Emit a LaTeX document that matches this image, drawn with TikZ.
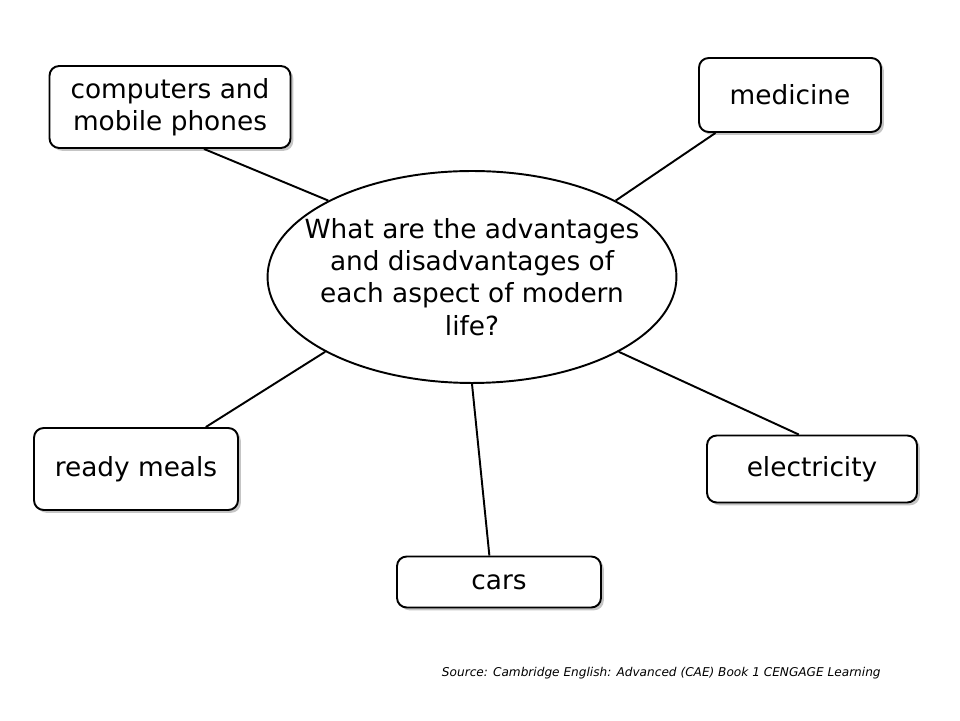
\documentclass[tikz,border=0pt]{standalone}
\usepackage{fontspec}
\setmainfont{DejaVu Sans}
\usepackage{tikz}
\usetikzlibrary{shapes.geometric,shadows}
\tikzset{
  topic/.style={draw,line width=1.1pt,rounded corners=5.5pt,fill=white,align=center,inner sep=0pt,
    font=\fontsize{15}{18.4}\selectfont,
    drop shadow={shadow xshift=1.6pt,shadow yshift=-1.6pt,fill=black!45}},
  hub/.style={ellipse,draw,line width=1.1pt,fill=white,align=center,inner xsep=-14pt,inner ysep=0pt,
    minimum width=8.18cm,minimum height=4.24cm,font=\fontsize{15}{18.4}\selectfont},
  link/.style={line width=1.1pt}
}
\begin{document}
\begin{tikzpicture}[x=0.02cm,y=0.02cm]
\useasboundingbox[fill=white] (0,0) rectangle (960,720);
% centre
\node[hub] (q) at (472,443) {What are the advantages\\and disadvantages of\\each aspect of modern\\life?};
% topics
\node[topic,minimum width=4.82cm,minimum height=1.64cm] (comp) at (170,613) {computers and\\mobile phones};
\node[topic,minimum width=3.64cm,minimum height=1.48cm] (med) at (790,625) {medicine};
\node[topic,minimum width=4.08cm,minimum height=1.64cm] (meals) at (136,251) {ready meals};
\node[topic,minimum width=4.2cm,minimum height=1.34cm] (elec) at (812,251) {electricity};
\node[topic,minimum width=4.08cm,minimum height=1.02cm] (cars) at (499,138) {cars};
% links
\draw[link] (comp.-51) -- (q.152);
\draw[link] (med.207) -- (q.28);
\draw[link] (meals.31) -- (q.207);
\draw[link] (elec.111) -- (q.-27);
\draw[link] (cars.110) -- (q.-90);
\node[anchor=east,inner sep=0pt,font=\fontsize{6.9}{8}\selectfont\itshape] (src) at (881,47) {Source: Cambridge English: Advanced (CAE) Book 1 CENGAGE Learning};
\end{tikzpicture}
\end{document}
